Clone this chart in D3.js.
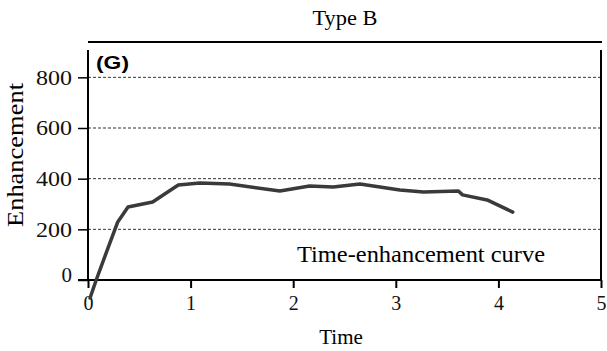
<!DOCTYPE html>
<html>
<head>
<meta charset="utf-8">
<script src="https://cdn.jsdelivr.net/npm/d3@7"></script>
<style>
  body { margin: 0; background: #fff; }
  svg { display: block; }
  .axis text { font-family: 'Liberation Serif', 'Times New Roman', serif; }
</style>
</head>
<body>
<svg id="chart" width="607" height="351"></svg>
<script>
// values
const timeValues = [0.02, 0.08, 0.18, 0.29, 0.39, 0.63, 0.88, 1.09, 1.38, 1.87, 2.16, 2.39, 2.65, 3.04, 3.27, 3.61, 3.65, 3.89, 4.14];
const enhancementValues = [-71, 0, 110, 229, 288, 308, 375, 383, 379, 351, 371, 367, 379, 355, 347, 351, 336, 316, 268];
const xTicks = [0, 1, 2, 3, 4, 5];
const yTicks = [0, 200, 400, 600, 800];
const gridValues = [200, 400, 600, 800];

const serif = "'Liberation Serif', 'Times New Roman', serif";
const svg = d3.select("#chart");

const plotLeft = 88, plotRight = 601, plotTop = 52, plotBottom = 280;

const x = d3.scaleLinear().domain([0, 5]).range([plotLeft, plotRight]);
const y = d3.scaleLinear().domain([0, 900]).range([plotBottom, plotTop]);

// dashed grid lines
svg.append("g")
    .selectAll("line")
    .data(gridValues)
    .enter().append("line")
    .attr("x1", plotLeft).attr("x2", plotRight)
    .attr("y1", d => y(d)).attr("y2", d => y(d))
    .attr("stroke", "#333")
    .attr("stroke-width", 1)
    .attr("stroke-dasharray", "3,2");

// frame: top line and right line
svg.append("line")
    .attr("x1", plotLeft).attr("x2", plotRight + 1)
    .attr("y1", 42).attr("y2", 42)
    .attr("stroke", "#000").attr("stroke-width", 2);
svg.append("line")
    .attr("x1", plotRight).attr("x2", plotRight)
    .attr("y1", 50).attr("y2", plotBottom)
    .attr("stroke", "#000").attr("stroke-width", 2);

// y axis
const yAxis = d3.axisLeft(y).tickValues(yTicks).tickFormat(d3.format("d"))
    .tickSize(10).tickSizeOuter(0).tickPadding(6);
const gy = svg.append("g")
    .attr("class", "axis")
    .attr("transform", "translate(" + plotLeft + ",0)")
    .call(yAxis)
    .attr("font-family", serif)
    .attr("font-size", 21);
gy.select(".domain").attr("d", "M0," + plotBottom + "V50").attr("stroke-width", 2);
gy.selectAll(".tick line").attr("stroke-width", 1.5);
gy.selectAll(".tick text")
    .attr("fill", "#111")
    .attr("textLength", d => d === 0 ? null : 36)
    .attr("lengthAdjust", "spacingAndGlyphs")
    .attr("y", d => d === 0 ? -5 : 0);

// x axis
const xAxis = d3.axisBottom(x).tickValues(xTicks).tickFormat(d3.format("d"))
    .tickSize(8).tickSizeOuter(0).tickPadding(8);
const gx = svg.append("g")
    .attr("class", "axis")
    .attr("transform", "translate(0," + plotBottom + ")")
    .call(xAxis)
    .attr("font-family", serif)
    .attr("font-size", 20);
gx.select(".domain").attr("d", "M78,0H" + (plotRight + 1)).attr("stroke-width", 2);
gx.selectAll(".tick line").attr("stroke-width", 2);
gx.selectAll(".tick text").attr("fill", "#111");

// curve
const line = d3.line()
    .x((d, i) => x(timeValues[i]))
    .y(d => y(d));

svg.append("path")
    .datum(enhancementValues)
    .attr("d", line)
    .attr("fill", "none")
    .attr("stroke", "#3a3a3a")
    .attr("stroke-width", 3.5)
    .attr("stroke-linejoin", "round")
    .attr("stroke-linecap", "round");

// texts
svg.append("text")
    .attr("x", 345).attr("y", 25)
    .attr("text-anchor", "middle")
    .style("font-family", serif).style("font-size", "21px")
    .attr("textLength", 65).attr("lengthAdjust", "spacingAndGlyphs")
    .text("Type B");

svg.append("text")
    .attr("x", 96).attr("y", 69)
    .style("font-family", "'Liberation Sans', Arial, sans-serif")
    .style("font-weight", "bold")
    .style("font-size", "19px")
    .attr("textLength", 33).attr("lengthAdjust", "spacingAndGlyphs")
    .text("(G)");

svg.append("text")
    .attr("x", 297).attr("y", 262)
    .style("font-family", serif).style("font-size", "23px")
    .attr("textLength", 248).attr("lengthAdjust", "spacingAndGlyphs")
    .text("Time-enhancement curve");

svg.append("text")
    .attr("x", 341).attr("y", 344)
    .attr("text-anchor", "middle")
    .style("font-family", serif).style("font-size", "21px")
    .text("Time");

svg.append("text")
    .attr("transform", "translate(23,155) rotate(-90)")
    .attr("text-anchor", "middle")
    .style("font-family", serif).style("font-size", "23px")
    .attr("textLength", 144).attr("lengthAdjust", "spacingAndGlyphs")
    .text("Enhancement");
</script>
</body>
</html>
